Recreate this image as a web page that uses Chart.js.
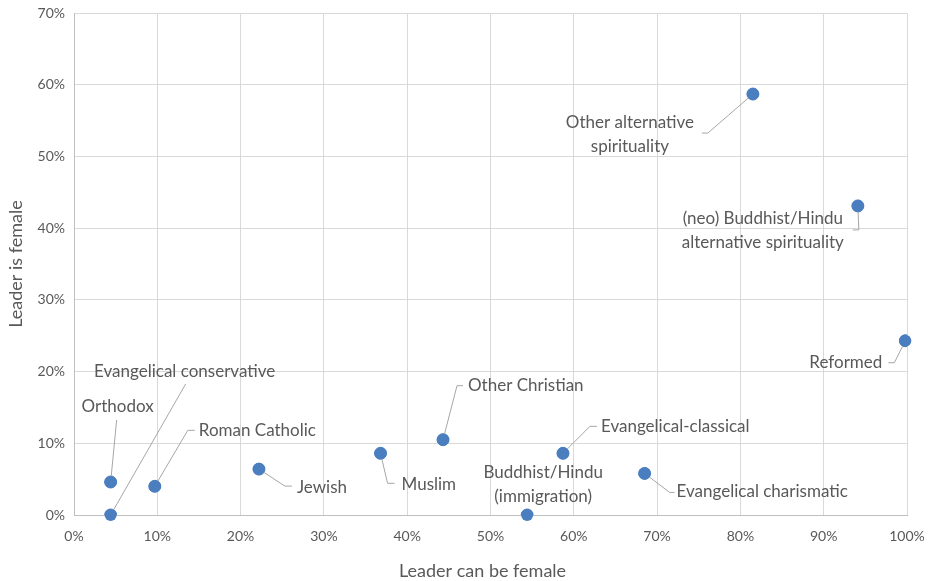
<!DOCTYPE html>
<html>
<head>
<meta charset="utf-8">
<script src="https://cdn.jsdelivr.net/npm/chart.js@4/dist/chart.umd.min.js"></script>
<style>
html,body{margin:0;padding:0;background:#fff;}
#wrap{width:929px;height:581px;position:relative;}
</style>
</head>
<body>
<div id="wrap"><canvas id="c"></canvas></div>
<script>
// ---- data ----
const categories = [
  "Orthodox",
  "Evangelical conservative",
  "Roman Catholic",
  "Jewish",
  "Muslim",
  "Other Christian",
  "Buddhist/Hindu\n(immigration)",
  "Evangelical-classical",
  "Evangelical charismatic",
  "Other alternative\nspirituality",
  "(neo) Buddhist/Hindu\nalternative spirituality",
  "Reformed"
];
const canBeFemale = [0.044, 0.044, 0.097, 0.222, 0.368, 0.443, 0.544, 0.587, 0.685, 0.815, 0.941, 0.998];
const isFemale    = [0.046, 0.000, 0.040, 0.064, 0.086, 0.105, 0.000, 0.086, 0.058, 0.587, 0.431, 0.243];
const xTicks = [0, 0.1, 0.2, 0.3, 0.4, 0.5, 0.6, 0.7, 0.8, 0.9, 1.0];
const yTicks = [0, 0.1, 0.2, 0.3, 0.4, 0.5, 0.6, 0.7];
const xTitle = "Leader can be female";
const yTitle = "Leader is female";

// ---- label layout (pixel offsets from each point: text anchor, alignment, leader line vertices) ----
const labelLayout = [
  {t:[7,-75],   a:'center', l:[[6,-62]]},
  {t:[74,-143], a:'center', l:[[75,-131]]},
  {t:[44,-56],  a:'left',   l:[[33,-56],[40,-56]]},
  {t:[38,18],   a:'left',   l:[[26,17],[33,17]]},
  {t:[21,31],   a:'left',   l:[[7,30],[14,30]]},
  {t:[25,-54],  a:'left',   l:[[14,-54],[20,-54]]},
  {t:[16,-30],  a:'center', l:null},
  {t:[38,-27],  a:'left',   l:[[27,-27],[34,-27]]},
  {t:[32,18],   a:'left',   l:[[25,19],[30,19]]},
  {t:[-123,40], a:'center', l:[[-45,39],[-51,39]]},
  {t:[-95,25],  a:'center', l:[[1,24],[-5,24]]},
  {t:[-23,22],  a:'right',  l:[[-11,22],[-17,22]]}
];

const FONT = "Lato, 'Open Sans', sans-serif";
const TEXT = '#595959';

const labelPlugin = {
  id: 'pointLabels',
  afterDatasetsDraw(chart) {
    const ctx = chart.ctx;
    const meta = chart.getDatasetMeta(0);
    ctx.save();
    meta.data.forEach((pt, i) => {
      const lay = labelLayout[i];
      if (lay.l) {
        ctx.beginPath();
        ctx.strokeStyle = '#a6a6a6';
        ctx.lineWidth = 1;
        ctx.moveTo(pt.x, pt.y);
        lay.l.forEach(p => ctx.lineTo(pt.x + p[0], pt.y + p[1]));
        ctx.stroke();
      }
    });
    meta.data.forEach(pt => {
      ctx.beginPath();
      ctx.fillStyle = '#4a7ebf';
      ctx.arc(pt.x, pt.y, 6, 0, Math.PI * 2);
      ctx.fill();
    });
    ctx.fillStyle = TEXT;
    ctx.font = "17px " + FONT;
    ctx.textBaseline = 'middle';
    meta.data.forEach((pt, i) => {
      const lay = labelLayout[i];
      ctx.textAlign = lay.a;
      const lines = categories[i].split('\n');
      const lh = 24;
      const cx = pt.x + lay.t[0];
      const cy = pt.y + lay.t[1];
      lines.forEach((s, k) => {
        ctx.fillText(s, cx, cy + (k - (lines.length - 1) / 2) * lh);
      });
    });
    // x axis title
    const ca = chart.chartArea;
    ctx.font = "18px " + FONT;
    ctx.textAlign = 'center';
    ctx.fillText(xTitle, (ca.left + ca.right) / 2 - 8, chart.height - 10);
    ctx.restore();
  }
};

const pct = v => Math.round(v * 100) + '%';

new Chart(document.getElementById('c'), {
  type: 'scatter',
  data: {
    datasets: [{
      data: canBeFemale.map((x, i) => ({x: x, y: isFemale[i]})),
      backgroundColor: '#4a7ebf',
      borderColor: '#4a7ebf',
      pointRadius: 6,
      pointHoverRadius: 6
    }]
  },
  options: {
    responsive: true,
    maintainAspectRatio: false,
    animation: false,
    events: [],
    layout: {padding: {left: 0, right: 22, top: 13, bottom: 0}},
    plugins: {legend: {display: false}, tooltip: {enabled: false}},
    scales: {
      x: {
        type: 'linear', min: 0, max: 1,
        afterBuildTicks: s => { s.ticks = xTicks.map(v => ({value: v})); },
        afterFit: s => { s.height = 66; s.paddingLeft = 0; s.paddingRight = 0; },
        grid: {color: '#d9d9d9', drawTicks: false},
        border: {color: '#bfbfbf'},
        ticks: {callback: pct, color: TEXT, font: {family: FONT, size: 14}, padding: 13, maxRotation: 0},
        title: {display: false}
      },
      y: {
        type: 'linear', min: 0, max: 0.7,
        afterBuildTicks: s => { s.ticks = yTicks.map(v => ({value: v})); },
        afterFit: s => { s.width = 74; s.paddingTop = 0; s.paddingBottom = 0; },
        grid: {color: '#d9d9d9', drawTicks: false},
        border: {color: '#bfbfbf'},
        ticks: {callback: pct, color: TEXT, font: {family: FONT, size: 14}, padding: 9},
        title: {display: true, text: yTitle, color: TEXT, font: {family: FONT, size: 18}, padding: {top: 5, bottom: 0}}
      }
    }
  },
  plugins: [labelPlugin]
});
</script>
</body>
</html>
